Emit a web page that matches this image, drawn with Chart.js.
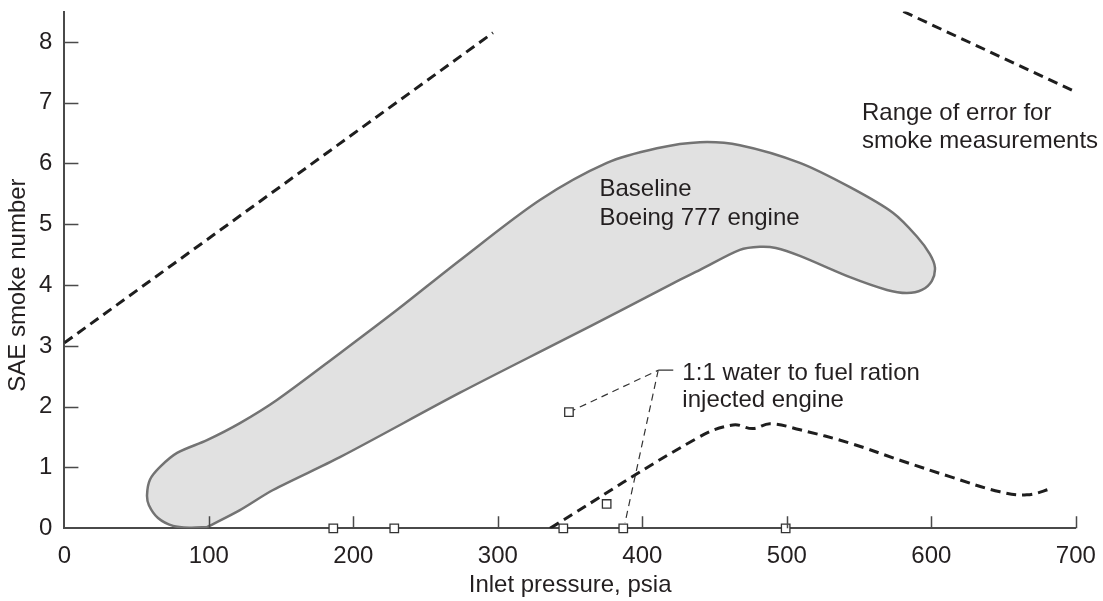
<!DOCTYPE html>
<html>
<head>
<meta charset="utf-8">
<script src="https://cdn.jsdelivr.net/npm/chart.js@4.4.1/dist/chart.umd.min.js"></script>
<style>
  html, body { margin: 0; padding: 0; background: #ffffff; }
  #wrap { width: 1103px; height: 601px; }
</style>
</head>
<body>
<div id="wrap"><canvas id="c" width="1103" height="601"></canvas></div>
<script>
// ---- Data ----
const xTickValues = [0, 100, 200, 300, 400, 500, 600, 700];
const yTickValues = [0, 1, 2, 3, 4, 5, 6, 7, 8];

// Baseline Boeing 777 engine envelope (closed outline)
const baselineX = [98.7, 86.9, 75.2, 64.8, 58.5, 57.2, 59.2, 66.2, 78.0, 98.7, 121.5, 147.1, 190.7, 230.1, 273.8, 329.1, 375.5, 410.1, 439.9, 467.5, 509.0, 543.7, 573.4, 590.0, 599.0, 602.5, 600.4, 593.5, 583.1, 569.3, 543.7, 509.0, 492.4, 481.4, 467.5, 439.9, 421.2, 386.6, 343.0, 273.8, 190.7, 144.4, 121.5, 98.7];
const baselineY = [0.02, 0.01, 0.04, 0.17, 0.38, 0.55, 0.80, 1.01, 1.24, 1.45, 1.73, 2.11, 2.88, 3.59, 4.41, 5.40, 6.01, 6.25, 6.35, 6.30, 6.01, 5.61, 5.19, 4.80, 4.51, 4.29, 4.07, 3.92, 3.87, 3.92, 4.13, 4.48, 4.61, 4.63, 4.58, 4.25, 4.03, 3.60, 3.07, 2.23, 1.17, 0.63, 0.30, 0.02];

// Water injected engine curve
const waterX = [336.1, 437.7, 462.7, 476.6, 488.4, 509.2, 543.7, 578.3, 612.9, 647.5, 666.1, 684.2];
const waterY = [0.0, 1.48, 1.70, 1.64, 1.72, 1.62, 1.40, 1.12, 0.85, 0.60, 0.55, 0.66];

// Range of error lines
const errLowX = [0, 296.6];
const errLowY = [3.05, 8.15];
const errHighX = [580.6, 698];
const errHighY = [8.5, 7.2];

// Measured points (open squares)
const pointX = [186.1, 228.3, 345.3, 375.3, 386.8, 499.2, 349.2];
const pointY = [0, 0, 0, 0.40, 0, 0, 1.91];

// Leader lines for the label "1:1 water to fuel ration"
const leaderAX = [349.2, 411.0];
const leaderAY = [1.91, 2.60];
const leaderBX = [411.0, 388.0];
const leaderBY = [2.60, 0.09];
const leaderTickX = [411.0, 421.4];
const leaderTickY = [2.60, 2.60];

// Text notes (anchored in data coordinates; left / baseline)
const noteTexts = ["Baseline", "Boeing 777 engine", "1:1 water to fuel ration", "injected engine", "Range of error for", "smoke measurements"];
const noteX = [370.3, 370.3, 427.7, 427.7, 552.0, 552.0];
const noteY = [5.47, 4.99, 2.44, 2.00, 6.72, 6.25];

const xTitle = "Inlet pressure, psia";
const yTitle = "SAE smoke number";

// ---- Helpers ----
const pts = (xs, ys) => xs.map((v, i) => ({ x: v, y: ys[i] }));
const FONT = '"Liberation Sans", Arial, Helvetica, sans-serif';
const TXT = '#231f20';
const AX = '#4a4a4a';

const inwardTicksAndNotes = {
  id: 'inwardTicksAndNotes',
  afterDraw(chart) {
    const { ctx, chartArea: a } = chart;
    const xs = chart.scales.x, ys = chart.scales.y;
    ctx.save();
    ctx.strokeStyle = AX;
    ctx.lineWidth = 1.5;
    ctx.beginPath();
    xTickValues.forEach(v => {
      if (v === 0) return;
      const px = Math.round(xs.getPixelForValue(v)) + 0.5;
      ctx.moveTo(px, a.bottom);
      ctx.lineTo(px, a.bottom - 12);
    });
    yTickValues.forEach(v => {
      if (v === 0) return;
      const py = Math.round(ys.getPixelForValue(v)) + 0.5;
      ctx.moveTo(a.left, py);
      ctx.lineTo(a.left + 14, py);
    });
    ctx.stroke();
    ctx.fillStyle = TXT;
    ctx.font = '24px ' + FONT;
    ctx.textAlign = 'left';
    ctx.textBaseline = 'alphabetic';
    noteTexts.forEach((t, i) => {
      ctx.fillText(t, xs.getPixelForValue(noteX[i]), ys.getPixelForValue(noteY[i]));
    });
    // y-axis title, centred on the labelled tick span
    const yMid = (ys.getPixelForValue(yTickValues[0]) + ys.getPixelForValue(yTickValues[yTickValues.length - 1])) / 2;
    ctx.translate(18, yMid);
    ctx.rotate(-Math.PI / 2);
    ctx.textAlign = 'center';
    ctx.textBaseline = 'middle';
    ctx.fillText(yTitle, 0, 0);
    ctx.restore();
  }
};

const dashedThick = { borderColor: '#1e1e1e', borderWidth: 3, borderDash: [10, 6], pointRadius: 0, showLine: true, fill: false };
const dashedThin = { borderColor: '#333333', borderWidth: 1.2, borderDash: [7, 5], pointRadius: 0, showLine: true, fill: false };

new Chart(document.getElementById('c'), {
  type: 'scatter',
  data: {
    datasets: [
      { label: 'points', data: pts(pointX, pointY), pointStyle: 'rect', pointRadius: 6, borderColor: '#333333', backgroundColor: '#ffffff', pointBorderWidth: 1.3, showLine: false, clip: false },
      Object.assign({ label: 'leaderA', data: pts(leaderAX, leaderAY) }, dashedThin),
      Object.assign({ label: 'leaderB', data: pts(leaderBX, leaderBY) }, dashedThin),
      { label: 'leaderTick', data: pts(leaderTickX, leaderTickY), borderColor: '#333333', borderWidth: 1.3, pointRadius: 0, showLine: true, fill: false },
      Object.assign({ label: 'water', data: pts(waterX, waterY), tension: 0.4 }, dashedThick),
      Object.assign({ label: 'errLow', data: pts(errLowX, errLowY) }, dashedThick),
      Object.assign({ label: 'errHigh', data: pts(errHighX, errHighY) }, dashedThick),
      { label: 'baseline', data: pts(baselineX, baselineY), showLine: true, tension: 0.3, fill: 'shape', backgroundColor: '#e1e1e1', borderColor: '#737373', borderWidth: 2.5, pointRadius: 0 }
    ]
  },
  options: {
    responsive: false,
    animation: false,
    devicePixelRatio: 1,
    layout: { padding: { top: 11.5, right: 27.2, left: 0, bottom: 0 } },
    plugins: { legend: { display: false }, tooltip: { enabled: false } },
    scales: {
      x: {
        type: 'linear', min: 0, max: 700,
        afterBuildTicks: s => { s.ticks = xTickValues.map(v => ({ value: v })); },
        afterFit: s => { s.height = 72.7; s.paddingLeft = 0; s.paddingRight = 0; },
        grid: { display: false, drawTicks: false },
        border: { display: true, color: AX, width: 2 },
        ticks: { color: TXT, font: { family: FONT, size: 24 }, padding: 13.5, maxRotation: 0, autoSkip: false },
        title: { display: true, text: xTitle, color: TXT, font: { family: FONT, size: 24 }, padding: { top: 0, bottom: 1.5 } }
      },
      y: {
        type: 'linear', min: 0, max: 8.5,
        afterBuildTicks: s => { s.ticks = yTickValues.map(v => ({ value: v })); },
        afterFit: s => { s.width = 64.4; s.paddingTop = 0; s.paddingBottom = 0; },
        grid: { display: false, drawTicks: false },
        border: { display: true, color: AX, width: 2 },
        ticks: { color: TXT, font: { family: FONT, size: 24 }, padding: 12, autoSkip: false },
        title: { display: false, text: yTitle }
      }
    }
  },
  plugins: [inwardTicksAndNotes]
});
</script>
</body>
</html>
